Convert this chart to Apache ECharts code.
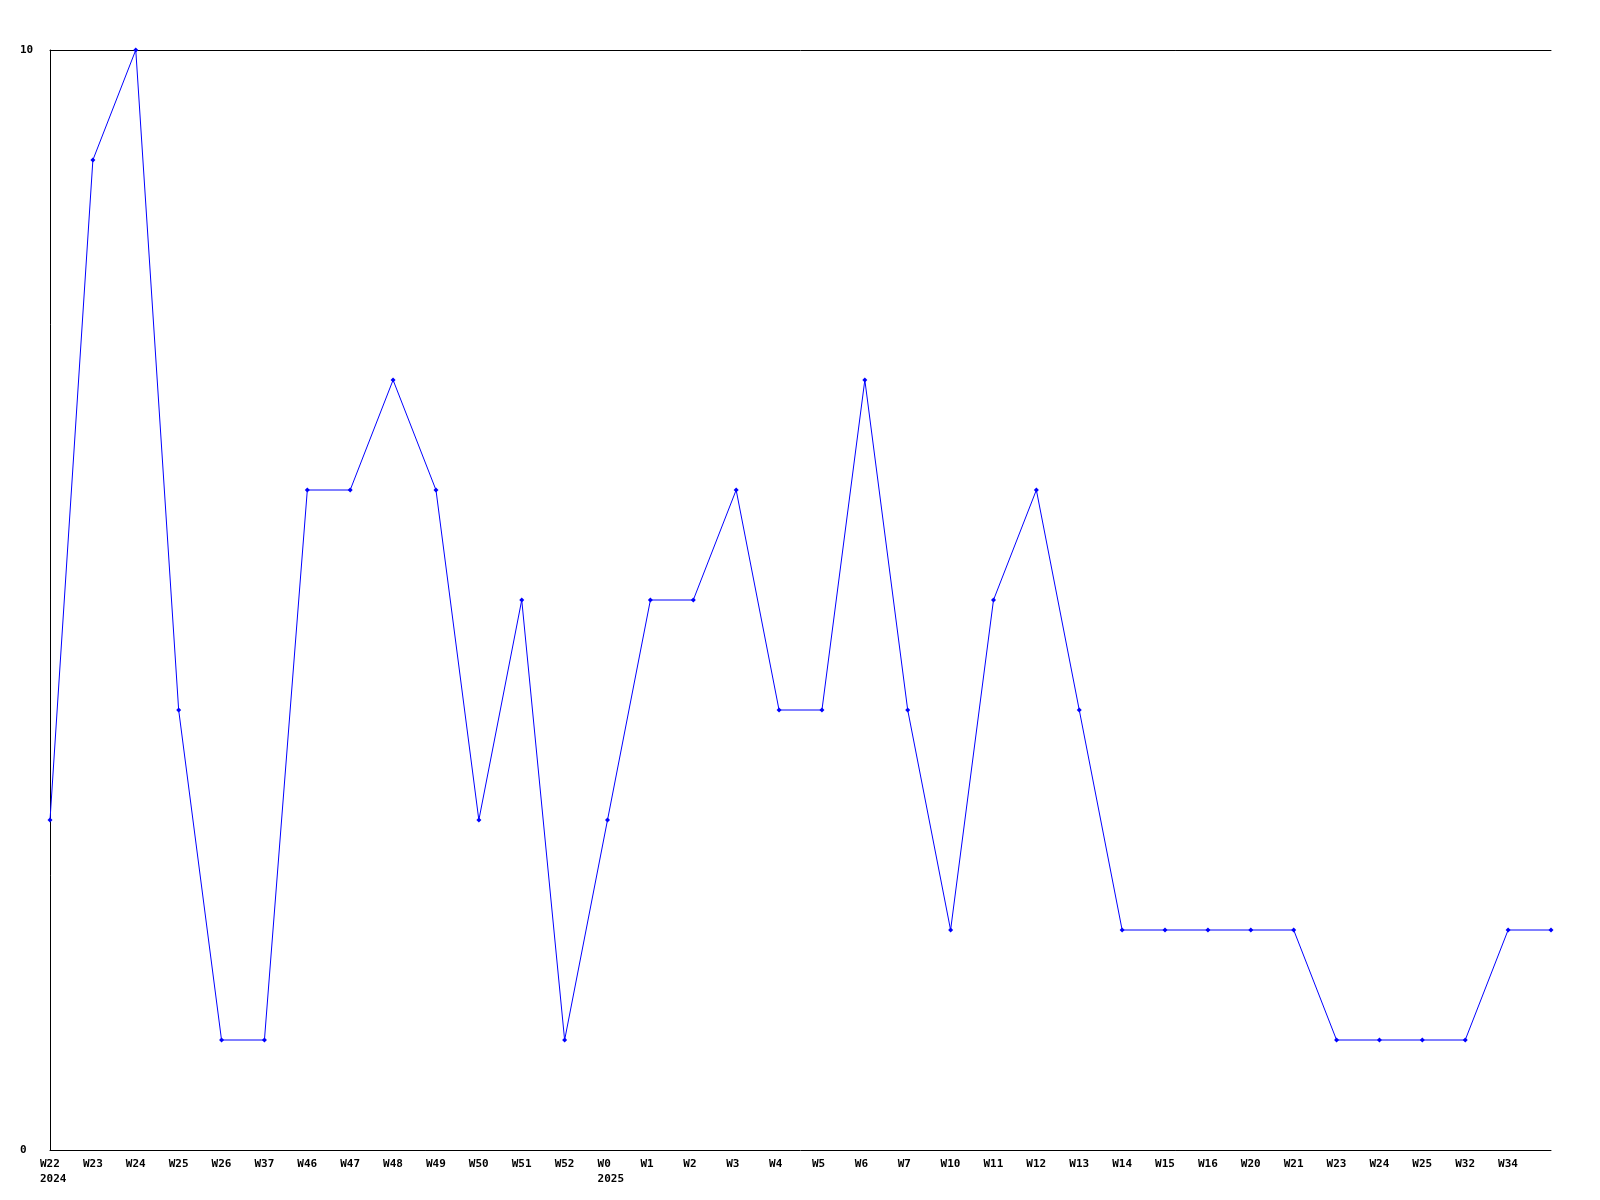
<!DOCTYPE html>
<html><head><meta charset="utf-8">
<script src="https://cdn.jsdelivr.net/npm/echarts@6/dist/echarts.min.js"></script>
<style>html,body{margin:0;padding:0;background:#fff}#c{width:1600px;height:1200px}</style>
</head><body><div id="c"></div>
<script>
const categories = ["W22\n2024","W23","W24","W25","W26","W37","W46","W47","W48","W49","W50","W51","W52","W0\n2025","W1","W2","W3","W4","W5","W6","W7","W10","W11","W12","W13","W14","W15","W16","W20","W21","W23","W24","W25","W32","W34",""];
const values = [3,9,10,4,1,1,6,6,7,6,3,5,1,3,5,5,6,4,4,7,4,2,5,6,4,2,2,2,2,2,1,1,1,1,2,2];
const yTicks = [0, 10];
const font = {fontFamily:'DejaVu Sans Mono', fontWeight:'bold', fontSize:11, color:'#000'};
const chart = echarts.init(document.getElementById('c'));
chart.setOption({
  animation:false,
  grid:{left:50,right:49,top:50,bottom:50},
  xAxis:[{
    type:'category', data:categories, boundaryGap:false,
    axisLine:{lineStyle:{color:'#000',width:1}}, axisTick:{show:false},
    axisLabel:Object.assign({interval:0, margin:7, lineHeight:15, verticalAlign:'top', align:'left', padding:[0,0,0,-10]}, font),
    splitLine:{show:false}
  },{
    type:'category', data:categories, boundaryGap:false, position:'top',
    axisLine:{lineStyle:{color:'#000',width:1}}, axisTick:{show:false}, axisLabel:{show:false}
  }],
  yAxis:{
    type:'value', min:yTicks[0], max:yTicks[1], interval:10,
    axisLine:{show:true, lineStyle:{color:'#000',width:1}}, axisTick:{show:false},
    axisLabel:Object.assign({margin:30, align:'left'}, font),
    splitLine:{show:false}
  },
  series:[{
    type:'line', data:values, xAxisIndex:0,
    lineStyle:{color:'#0000ff', width:1},
    itemStyle:{color:'#0000ff'},
    symbol:'diamond', symbolSize:5, showSymbol:true
  }]
});
</script></body></html>
